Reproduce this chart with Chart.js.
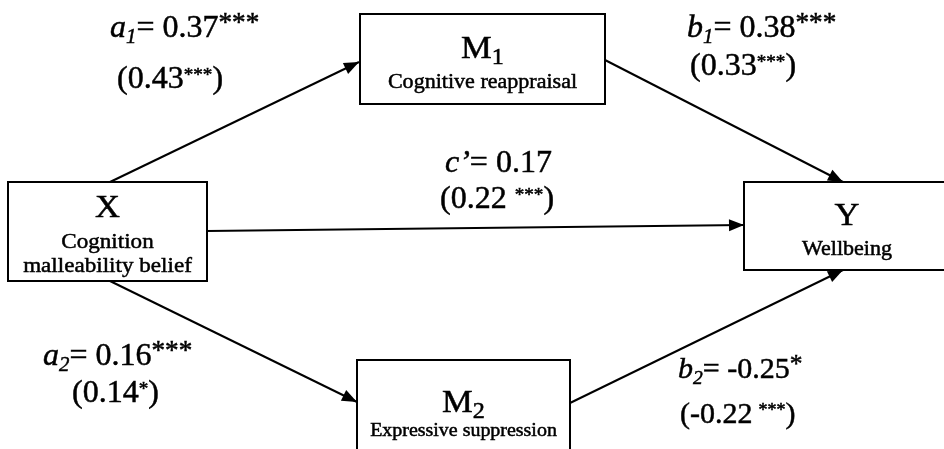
<!DOCTYPE html>
<html>
<head>
<meta charset="utf-8">
<title>Mediation model</title>
<script src="https://cdn.jsdelivr.net/npm/chart.js@4.4.1/dist/chart.umd.min.js"></script>
<style>
    html, body { margin: 0; padding: 0; background: #fff; }
    #wrap { width: 944px; height: 449px; position: relative; }
</style>
</head>
<body>
<div id="wrap"><canvas id="chart"></canvas></div>
<script>
// nodes of the model
var nodeKeys = ['X', 'M1', 'M2', 'Y'];
var nodeLetters = ['X', 'M', 'M', 'Y'];
var nodeIndices = ['', '1', '2', ''];
var nodeDescs = [['Cognition', 'malleability belief'], ['Cognitive reappraisal'], ['Expressive suppression'], ['Wellbeing']];

// paths: direct coefficient, total effect in brackets
var pathFrom = ['X', 'M1', 'X', 'X', 'M2'];
var pathTo = ['M1', 'Y', 'Y', 'M2', 'Y'];
var pathSymbols = ['a', 'b', 'c', 'a', 'b'];
var pathIndices = ['1', '1', '\u2019', '2', '2'];
var directCoefs = [0.37, 0.38, 0.17, 0.16, -0.25];
var directStars = ['***', '***', '', '***', '*'];
var totalCoefs = [0.43, 0.33, 0.22, 0.14, -0.22];
var totalStars = ['***', '***', '***', '*', '***'];

// layout (page units, y downwards)
var layout = {
    boxes: {
        X: [8, 182, 207, 281],
        M1: [360, 14, 605, 104],
        M2: [357, 360, 570, 456],
        Y: [744, 182, 948, 270]
    },
    titleY: { X: 217, M1: 58, M2: 412, Y: 225 },
    descY: { X: [248, 272], M1: [88], M2: [436], Y: [255] },
    descSize: { X: 22, M1: 21, M2: 19, Y: 21 },
    // [fromX, fromY, toX, toY]
    arrows: [
        [110, 182, 359, 62],
        [605, 60, 843, 182],
        [207, 231, 744, 225],
        [110, 281, 357, 402],
        [570, 403, 843, 270]
    ],
    // [x line1, baseline1, x line2, baseline2]
    labels: [
        [110, 37, 117, 88],
        [687, 37, 690, 75],
        [445, 172, 440, 208],
        [43, 365, 72, 402],
        [678, 378, 680, 423]
    ],
    labelSize: [32, 32, 32, 32, 30],
    totalGap: ['', '', ' ', '', '\u2009']
};

var FONT = '"Liberation Serif", "Times New Roman", serif';

function fmt(v) {
    return v.toFixed(2);
}

function drawRich(ctx, x, y, parts, size, stretch) {
    stretch = stretch || 1;
    parts.forEach(function (p) {
        var s = size * (p.scale || 1);
        var dy = p.dy ? p.dy * size : 0;
        ctx.font = (p.italic ? 'italic ' : '') + s.toFixed(1) + 'px ' + FONT;
        ctx.save();
        ctx.translate(x, y + dy);
        ctx.scale(stretch, 1);
        ctx.lineWidth = 0.5;
        ctx.fillText(p.t, 0, 0);
        ctx.strokeText(p.t, 0, 0);
        ctx.restore();
        x += ctx.measureText(p.t).width * stretch;
    });
}

function richWidth(ctx, parts, size, stretch) {
    var w = 0;
    parts.forEach(function (p) {
        ctx.font = (p.italic ? 'italic ' : '') + (size * (p.scale || 1)).toFixed(1) + 'px ' + FONT;
        w += ctx.measureText(p.t).width;
    });
    return w * (stretch || 1);
}

var arrowPaths = pathFrom.map(function (f, i) {
    var a = layout.arrows[i];
    return {
        type: 'scatter',
        label: f + '->' + pathTo[i],
        data: [{ x: a[0], y: a[1] }, { x: a[2], y: a[3] }],
        showLine: true,
        borderColor: '#000',
        borderWidth: 2,
        pointRadius: 0,
        fill: false
    };
});

var diagramPlugin = {
    id: 'diagram',
    afterDatasetsDraw: function (chart) {
        var ctx = chart.ctx;
        var xs = chart.scales.x, ys = chart.scales.y;
        ctx.save();
        ctx.fillStyle = '#000';
        ctx.strokeStyle = '#000';
        ctx.textBaseline = 'alphabetic';

        // arrow heads
        chart.data.datasets.forEach(function (ds, i) {
            var pts = chart.getDatasetMeta(i).data;
            var p0 = pts[0], p1 = pts[1];
            var ang = Math.atan2(p1.y - p0.y, p1.x - p0.x);
            var len = 15, half = 6;
            ctx.beginPath();
            ctx.moveTo(p1.x, p1.y);
            ctx.lineTo(p1.x - len * Math.cos(ang) + half * Math.sin(ang), p1.y - len * Math.sin(ang) - half * Math.cos(ang));
            ctx.lineTo(p1.x - len * Math.cos(ang) - half * Math.sin(ang), p1.y - len * Math.sin(ang) + half * Math.cos(ang));
            ctx.closePath();
            ctx.fill();
        });

        // boxes
        nodeKeys.forEach(function (k, i) {
            var b = layout.boxes[k];
            var x1 = xs.getPixelForValue(b[0]), y1 = ys.getPixelForValue(b[1]);
            var x2 = xs.getPixelForValue(b[2]), y2 = ys.getPixelForValue(b[3]);
            ctx.fillStyle = '#fff';
            ctx.fillRect(x1, y1, x2 - x1, y2 - y1);
            ctx.lineWidth = 2;
            ctx.strokeRect(x1, y1, x2 - x1, y2 - y1);
            ctx.fillStyle = '#000';

            var cx = (x1 + x2) / 2;
            if (k === 'Y') cx = xs.getPixelForValue(847);
            var title = [
                { t: nodeLetters[i] },
                { t: nodeIndices[i], scale: 0.7, dy: 0.2 }
            ];
            var tw = richWidth(ctx, title, 32, 1.08);
            drawRich(ctx, cx - tw / 2, ys.getPixelForValue(layout.titleY[k]), title, 32, 1.08);
            nodeDescs[i].forEach(function (line, j) {
                var d = [{ t: line }];
                var ds = layout.descSize[k];
                var w = richWidth(ctx, d, ds, 1.05);
                drawRich(ctx, cx - w / 2, ys.getPixelForValue(layout.descY[k][j]), d, ds, 1.05);
            });
        });

        // coefficient labels
        pathSymbols.forEach(function (sym, i) {
            var L = layout.labels[i];
            var size = layout.labelSize[i];
            var prime = pathIndices[i] === '\u2019';
            var line1 = [
                { t: sym, italic: true },
                { t: pathIndices[i], italic: true, scale: prime ? 1 : 0.65, dy: prime ? 0 : 0.2 },
                { t: '= ' + fmt(directCoefs[i]) }
            ];
            if (directStars[i]) line1.push({ t: directStars[i], scale: 0.85, dy: -0.2 });
            drawRich(ctx, xs.getPixelForValue(L[0]), ys.getPixelForValue(L[1]), line1, size);
            drawRich(ctx, xs.getPixelForValue(L[2]), ys.getPixelForValue(L[3]), [
                { t: '(' + fmt(totalCoefs[i]) + layout.totalGap[i] },
                { t: totalStars[i], scale: 0.6, dy: -0.22 },
                { t: ')' }
            ], size);
        });
        ctx.restore();
    }
};

new Chart(document.getElementById('chart'), {
    type: 'scatter',
    data: { datasets: arrowPaths },
    options: {
        responsive: true,
        maintainAspectRatio: false,
        animation: false,
        layout: { padding: 0 },
        plugins: { legend: { display: false }, tooltip: { enabled: false } },
        scales: {
            x: { type: 'linear', min: 0, max: 944, display: false },
            y: { type: 'linear', min: 0, max: 449, reverse: true, display: false }
        }
    },
    plugins: [diagramPlugin]
});
</script>
</body>
</html>
